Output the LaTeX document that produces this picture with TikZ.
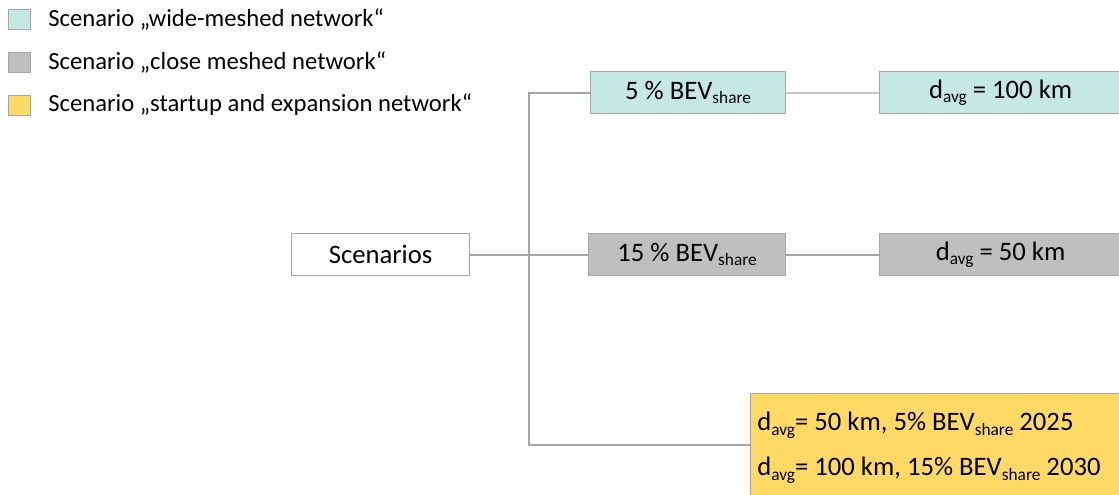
\documentclass[tikz,border=0pt]{standalone}
\usepackage{fontspec}
\setmainfont{Carlito}
\newcommand\lowsub[1]{\raisebox{-3.5pt}{\fontsize{13}{15}\selectfont #1}}
\definecolor{cyanbox}{HTML}{C5E8E3}
\definecolor{graybox}{HTML}{BFBFBF}
\definecolor{yellowbox}{HTML}{FFD966}
\definecolor{edgegray}{HTML}{A6A6A6}
\definecolor{linegray}{HTML}{A5A5A5}
\tikzset{
  box/.style={draw=edgegray, line width=0.9pt, minimum height=31.5pt, inner sep=0pt, anchor=north west, font=\fontsize{20}{24}\selectfont},
  legsq/.style={draw=edgegray, line width=0.7pt, minimum width=16.5pt, minimum height=15pt, inner sep=0pt, anchor=north west},
  legtext/.style={anchor=west, inner sep=0pt, font=\fontsize{18.5}{22}\selectfont},
  ytext/.style={anchor=west, inner sep=0pt, font=\fontsize{20}{24}\selectfont},
  conn/.style={draw=linegray, line width=1.5pt}
}
\begin{document}
\begin{tikzpicture}[x=0.75pt,y=-0.75pt]
\useasboundingbox (0,0) rectangle (1119,495);
% legend
\node[legsq, fill=cyanbox] (l1) at (8,9) {};
\node[legsq, fill=graybox] (l2) at (8,52) {};
\node[legsq, fill=yellowbox] (l3) at (8,95) {};
\node[legtext] (t1) at (48,19) {Scenario „wide-meshed network“};
\node[legtext] (t2) at (48,62) {Scenario „close meshed network“};
\node[legtext] (t3) at (48,105) {Scenario „startup and expansion network“};
% nodes
\node[box, fill=white, minimum width=133.5pt] (sc) at (291,233) {Scenarios};
\node[box, fill=cyanbox, minimum width=146.25pt] (b5) at (590,71) {5 \% BEV\lowsub{share}};
\node[box, fill=graybox, minimum width=147.75pt] (b15) at (588,233) {15 \% BEV\lowsub{share}};
\node[box, fill=cyanbox, minimum width=181.5pt] (d100) at (879,71) {d\lowsub{avg} = 100 km};
\node[box, fill=graybox, minimum width=181.5pt] (d50) at (879,233) {d\lowsub{avg} = 50 km};
\node[box, fill=yellowbox, minimum width=285pt, minimum height=82.5pt] (yb) at (750,393) {};
\node[ytext] (y1) at (757,425) {d\lowsub{avg}= 50 km, 5\% BEV\lowsub{share} 2025};
\node[ytext] (y2) at (757,470) {d\lowsub{avg}= 100 km, 15\% BEV\lowsub{share} 2030};
% connectors
\coordinate (top) at (529,93);
\coordinate (bot) at (529,445);
\draw[conn] (b5.west) -- (b5.west -| top) -- (bot) -- (bot -| yb.west);
\draw[conn] (sc.east) -- (b15.west);
\draw[conn, draw=linegray!60] (b5.east) -- (d100.west);
\draw[conn] (b15.east) -- (d50.west);
\end{tikzpicture}
\end{document}
